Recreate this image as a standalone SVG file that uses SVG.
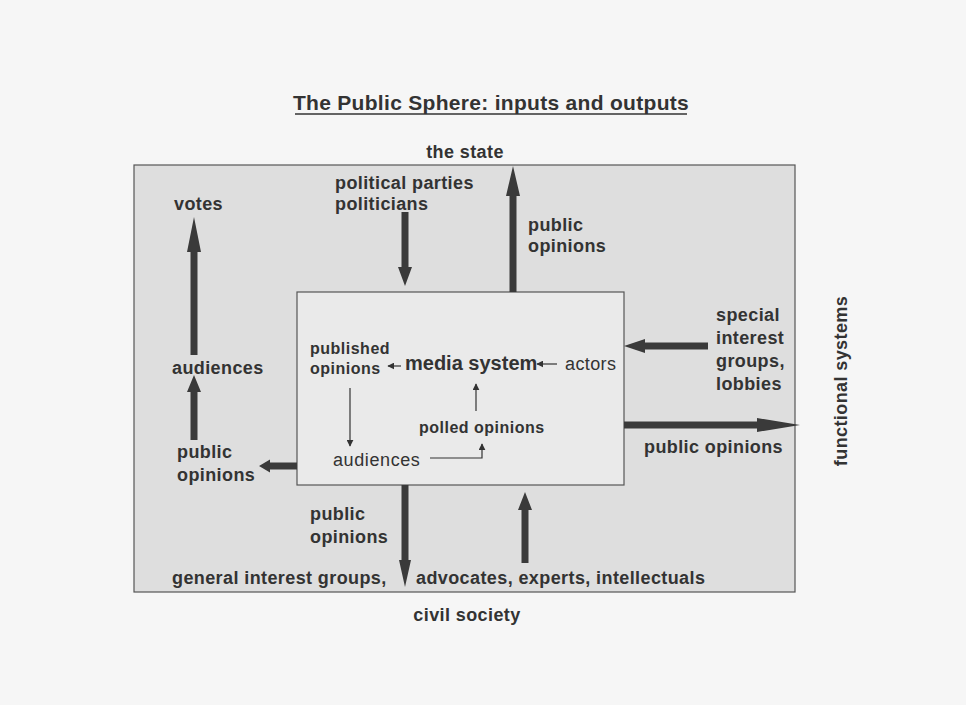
<svg xmlns="http://www.w3.org/2000/svg" width="966" height="705" viewBox="0 0 966 705">
<style>
text{font-family:"Liberation Sans",Arial,sans-serif;fill:#333;}
.b{font-weight:bold;font-size:18px;letter-spacing:0.4px;}
.s{font-weight:bold;font-size:16px;letter-spacing:0.5px;}
.thick{fill:#3a3a3a;}
.thin{stroke:#333;stroke-width:1.2;fill:none;}
</style>
<defs>
<marker id="ah" viewBox="0 0 10 10" refX="9" refY="5" markerWidth="7" markerHeight="7" orient="auto" markerUnits="userSpaceOnUse">
<path d="M0,0 L10,5 L0,10 z" fill="#333"/>
</marker>
</defs>
<rect width="966" height="705" fill="#f6f6f6"/>
<g id="title">
<text x="491" y="110" text-anchor="middle" style="font-weight:bold;font-size:21px;letter-spacing:0.3px">The Public Sphere: inputs and outputs</text>
<line x1="295" y1="114" x2="687" y2="114" stroke="#333" stroke-width="1.6"/>
</g>
<g id="public-sphere">
<rect x="134" y="165" width="661" height="427" fill="#dedede" stroke="#555" stroke-width="1.2"/>
</g>
<g id="media-box">
<rect x="297" y="292" width="327" height="193" fill="#eaeaea" stroke="#555" stroke-width="1.2"/>
</g>
<g id="the-state"><text class="b" x="465" y="158" text-anchor="middle">the state</text></g>
<g id="civil-society"><text class="b" x="467" y="621" text-anchor="middle">civil society</text></g>
<g id="functional-systems"><text class="b" x="0" y="0" text-anchor="middle" transform="translate(847,381) rotate(-90)">functional systems</text></g>
<g id="political-parties"><text class="b" x="335" y="189">political parties</text><text class="b" x="335" y="210">politicians</text></g>
<g id="votes"><text class="b" x="174" y="210">votes</text></g>
<g id="state-opinions"><text class="b" x="528" y="231">public</text><text class="b" x="528" y="252">opinions</text></g>
<g id="audiences-out"><text class="b" x="172" y="374">audiences</text></g>
<g id="left-opinions"><text class="b" x="177" y="458">public</text><text class="b" x="177" y="481">opinions</text></g>
<g id="special-interest"><text class="b" x="716" y="321">special</text><text class="b" x="716" y="344">interest</text><text class="b" x="716" y="367">groups,</text><text class="b" x="716" y="390">lobbies</text></g>
<g id="right-opinions"><text class="b" x="644" y="453">public opinions</text></g>
<g id="bottom-opinions"><text class="b" x="310" y="520">public</text><text class="b" x="310" y="543">opinions</text></g>
<g id="general-interest"><text class="b" x="172" y="584">general interest groups,</text></g>
<g id="advocates"><text class="b" x="416" y="584">advocates, experts, intellectuals</text></g>
<g id="published-opinions"><text class="s" x="310" y="354">published</text><text class="s" x="310" y="374">opinions</text></g>
<g id="media-system"><text x="405" y="370" style="font-weight:bold;font-size:20px">media system</text></g>
<g id="actors"><text x="565" y="370" style="font-size:18px;letter-spacing:0.4px">actors</text></g>
<g id="polled-opinions"><text class="s" x="419" y="433">polled opinions</text></g>
<g id="audiences-in"><text x="333" y="466" style="font-size:18px;letter-spacing:0.6px">audiences</text></g>
<g id="connectors">
<polygon class="thick" points="509.5,292 509.5,196 506,196 513,166 520,196 516.5,196 516.5,292"/>
<polygon class="thick" points="401.5,212 401.5,267 398,267 405,286 412,267 408.5,267 408.5,212"/>
<polygon class="thick" points="190.5,355 190.5,252 187,252 194,217 201,252 197.5,252 197.5,355"/>
<polygon class="thick" points="190.5,440 190.5,392 187,392 194,375 201,392 197.5,392 197.5,440"/>
<polygon class="thick" points="297,462.5 270,462.5 270,459.5 259,466 270,472.5 270,469.5 297,469.5"/>
<polygon class="thick" points="708,342.5 645,342.5 645,339 624,346 645,353 645,349.5 708,349.5"/>
<polygon class="thick" points="624,421.5 757,421.5 757,418 800,425 757,432 757,428.5 624,428.5"/>
<polygon class="thick" points="401.5,485 401.5,560 399,560 405,587 411,560 408.5,560 408.5,485"/>
<polygon class="thick" points="521.5,563 521.5,510 518,510 525,492 532,510 528.5,510 528.5,563"/>
<line class="thin" x1="401" y1="366" x2="388" y2="366" marker-end="url(#ah)"/>
<line class="thin" x1="557" y1="364" x2="537" y2="364" marker-end="url(#ah)"/>
<line class="thin" x1="350" y1="388" x2="350" y2="446" marker-end="url(#ah)"/>
<polyline class="thin" points="430,458 482,458 482,444" marker-end="url(#ah)"/>
<line class="thin" x1="476" y1="411" x2="476" y2="384" marker-end="url(#ah)"/>
</g>
</svg>
